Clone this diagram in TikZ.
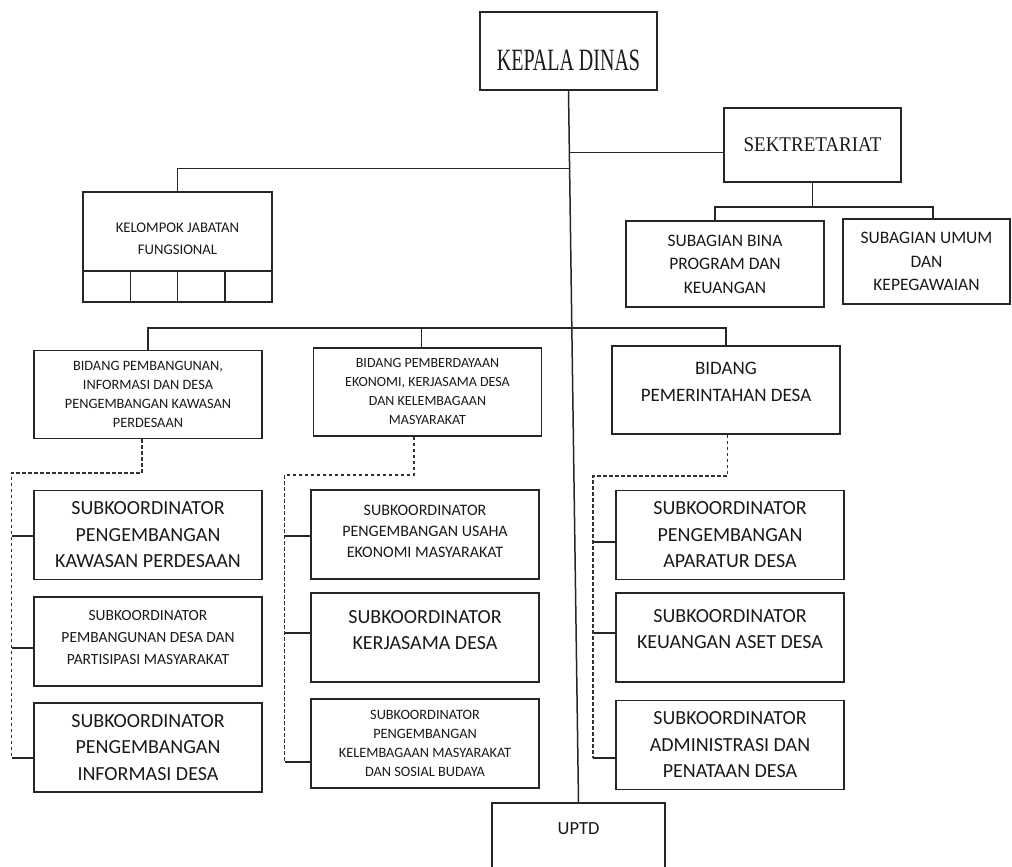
\documentclass[tikz,border=0pt]{standalone}
\usepackage{fontspec}
\setmainfont{Carlito}
\newfontfamily\timesfont{Liberation Serif}
\usetikzlibrary{calc}
\newcommand\fsz[2]{\fontsize{#1}{#2}\selectfont}

\begin{document}
\begin{tikzpicture}
[x=1pt,y=-1pt
,box/.style={draw=black!85,line width=1.5pt,align=center,inner sep=2pt,text=black!90}
,bid/.style={box,minimum width=228pt,minimum height=88pt}
,sub/.style={box,minimum width=228pt,minimum height=89pt}
,cell/.style={box,minimum width=47.25pt,minimum height=31pt}
,ln/.style={draw=black!85,line width=1.5pt}
,dotline/.style={draw=black!80,line width=1.4pt,dash pattern=on 3.5pt off 2.5pt}]
\clip (0,0) rectangle (1012,867);
% top
\node[box,minimum width=177pt,minimum height=78pt,font=\timesfont\fsz{20}{24}] (kd) at (568.5,51) {\mbox{}\\[15.5pt]\scalebox{1}[1.55]{KEPALA DINAS}};
\node[box,minimum width=177pt,minimum height=74pt,font=\timesfont\fsz{19}{23}] (sek) at (812.5,145) {\scalebox{1}[1.1]{SEKTRETARIAT}};
\node[box,minimum width=198pt,minimum height=86pt,font=\fsz{17.5}{23.5}] (sbp) at (725,264) {SUBAGIAN BINA\\PROGRAM DAN\\KEUANGAN};
\node[box,minimum width=167pt,minimum height=85pt,font=\fsz{17.5}{23.5}] (sum) at (926.5,261.5) {SUBAGIAN UMUM\\DAN\\KEPEGAWAIAN};
\node[box,minimum width=189pt,minimum height=79pt,font=\fsz{14.7}{22}] (kjf) at (177.5,231.5) {\mbox{}\\[2.5pt]KELOMPOK JABATAN\\FUNGSIONAL};
\foreach \i in {1,...,4}
  \node[cell] (c\i) at ({83+47.25*(\i-0.5)},286.5) {};
\node[box,minimum width=173pt,minimum height=87pt,font=\fsz{18.5}{22}] (uptd) at (578.5,846.5) {UPTD\\[13pt]\mbox{}};
% bidang
\node[bid,font=\fsz{14.3}{19}] (b1) at (148,394.5) {BIDANG PEMBANGUNAN,\\INFORMASI DAN DESA\\PENGEMBANGAN KAWASAN\\PERDESAAN};
\node[bid,font=\fsz{14}{19}] (b2) at (427.5,392) {BIDANG PEMBERDAYAAN\\EKONOMI, KERJASAMA DESA\\DAN KELEMBAGAAN\\MASYARAKAT};
\node[bid,font=\fsz{19}{27}] (b3) at (726,390) {BIDANG\\PEMERINTAHAN DESA\\[-10pt]\mbox{}};
% subkoordinator
\node[sub,font=\fsz{20}{26.5}] (s11) at (148,535) {SUBKOORDINATOR\\PENGEMBANGAN\\KAWASAN PERDESAAN};
\node[sub,font=\fsz{15.5}{22}] (s12) at (148,641.5) {SUBKOORDINATOR\\PEMBANGUNAN DESA DAN\\PARTISIPASI MASYARAKAT\\[-13pt]\mbox{}};
\node[sub,font=\fsz{20}{26.5}] (s13) at (148,747.5) {SUBKOORDINATOR\\PENGEMBANGAN\\INFORMASI DESA};
\node[sub,font=\fsz{16}{21}] (s21) at (425,534.5) {SUBKOORDINATOR\\PENGEMBANGAN USAHA\\EKONOMI MASYARAKAT\\[-14pt]\mbox{}};
\node[sub,font=\fsz{20}{26.5}] (s22) at (425,637.5) {SUBKOORDINATOR\\KERJASAMA DESA\\[-11.5pt]\mbox{}};
\node[sub,font=\fsz{14.3}{19}] (s23) at (425,743.5) {SUBKOORDINATOR\\PENGEMBANGAN\\KELEMBAGAAN MASYARAKAT\\DAN SOSIAL BUDAYA};
\node[sub,font=\fsz{20}{26.5}] (s31) at (730,535) {SUBKOORDINATOR\\PENGEMBANGAN\\APARATUR DESA};
\node[sub,font=\fsz{20}{26.5}] (s32) at (730,637.5) {SUBKOORDINATOR\\KEUANGAN ASET DESA\\[-9.5pt]\mbox{}};
\node[sub,font=\fsz{20}{26.5}] (s33) at (730,745) {SUBKOORDINATOR\\ADMINISTRASI DAN\\PENATAAN DESA};
% main line and branches
\draw[ln] (kd.south) -- (uptd.north);
\coordinate (m1) at ($(kd.south)!0.087!(uptd.north)$);
\coordinate (m2) at ($(kd.south)!0.109!(uptd.north)$);
\draw[ln] (m1) -- (m1 -| sek.west);
\draw[ln] (m2) -| (kjf.north);
\coordinate (sj) at (812.5,207);
\draw[ln] (sek.south) -- (sj);
\draw[ln] ([xshift=-10pt]sbp.north) |- (sj) -| ([xshift=6.5pt]sum.north);
\coordinate (bus) at (0,328);
\coordinate (b2t) at ([xshift=-6pt]b2.north);
\draw[ln] (b1.north) -- (b1.north |- bus) -| (b3.north);
\draw[ln] (b2t) -- (b2t |- bus);
% dashed spines
\coordinate (k1) at (11.5,473);
\coordinate (k2) at (284.5,475);
\coordinate (k3) at (593,476);
\foreach \n/\dy/\k in {s11/-1/k1,s12/-6.5/k1,s13/-10.5/k1,s21/-1.5/k2,s22/4.5/k2,s23/-18.5/k2,s31/-7/k3,s32/4.5/k3,s33/-13/k3}{
  \coordinate (t\n) at ([yshift=\dy pt]\n.west);
  \draw[ln] (t\n) -- (t\n -| \k);
}
\draw[dotline] ([xshift=-6pt]b1.south) |- (k1) -- (k1 |- ts13);
\draw[dotline] ([xshift=-13.5pt]b2.south) |- (k2) -- (k2 |- ts23);
\draw[dotline] ([xshift=1.7pt]b3.south) |- (k3) -- (k3 |- ts33);
\end{tikzpicture}
\end{document}
